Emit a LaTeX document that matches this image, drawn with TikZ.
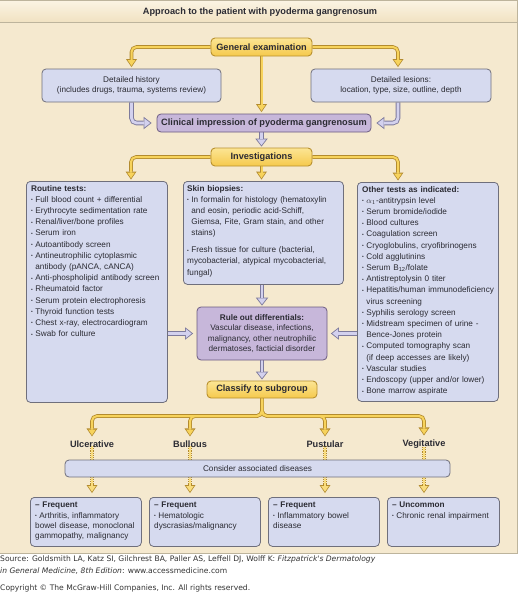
\documentclass[tikz,border=0pt]{standalone}
\usepackage{fontspec}
\setmainfont{Liberation Sans}
\newfontfamily\footfont{DejaVu Sans}
\usepackage{graphicx}
\usetikzlibrary{arrows.meta}
\pgfdeclarelayer{bg}
\pgfdeclarelayer{ca}
\pgfdeclarelayer{cb}
\pgfsetlayers{bg,ca,cb,main}
\definecolor{beige}{HTML}{F5E9CF}
\definecolor{bandTop}{HTML}{FBF4E4}
\definecolor{bandBot}{HTML}{F1E2C2}
\definecolor{panelEdge}{HTML}{BDB49C}
\definecolor{yEdge}{HTML}{B38B2E}
\definecolor{yFill}{HTML}{F7D35C}
\definecolor{yBoxTop}{HTML}{FCE594}
\definecolor{yBoxBot}{HTML}{F5C94C}
\definecolor{yBoxEdge}{HTML}{B8902E}
\definecolor{lavFill}{HTML}{D6DAEF}
\definecolor{lavEdge}{HTML}{6F6F7C}
\definecolor{purFill}{HTML}{C7B7DA}
\definecolor{purEdge}{HTML}{6C5C82}
\definecolor{lArrEdge}{HTML}{7D7A9C}
\definecolor{lArrFill}{HTML}{D3D1EE}
\definecolor{txtCol}{HTML}{2B2B33}
\newcommand\fbody{\fontsize{8.2}{11.2}\selectfont}
\newcommand\fhead{\fontsize{9.2}{11}\selectfont\bfseries}
\newcommand\bul{\makebox[4.2pt][l]{\raisebox{0.6pt}{\scalebox{0.6}{•}}}}
\newcommand\bi{\par\hangindent=4.2pt\hangafter=1\noindent\bul}
\newcommand\YC[2][0pt]{%
 \begin{pgfonlayer}{ca}\draw[yout,shorten >=#1] #2;\end{pgfonlayer}%
 \begin{pgfonlayer}{cb}\draw[yin,shorten >=#1+1.3pt] #2;\end{pgfonlayer}}
\newcommand\LC[2][0pt]{%
 \begin{pgfonlayer}{ca}\draw[lout,shorten >=#1] #2;\end{pgfonlayer}%
 \begin{pgfonlayer}{cb}\draw[lin,shorten >=#1+1.4pt] #2;\end{pgfonlayer}}
\newcommand\DC[2][0pt]{%
 \begin{pgfonlayer}{ca}\draw[dout,shorten >=#1] #2;\end{pgfonlayer}%
 \begin{pgfonlayer}{cb}\draw[din,shorten >=#1+1.3pt] #2;\end{pgfonlayer}}
\begin{document}
\begin{tikzpicture}[x=1pt,y=-1pt,
  every node/.style={text=txtCol},
  yout/.style={draw=yEdge, line width=3.6pt, rounded corners=5pt, line cap=butt,
    -{Triangle[width=11pt,length=8pt,line width=0pt]}},
  yin/.style={draw=yFill, line width=2pt, rounded corners=5pt,
    -{Triangle[width=7.6pt,length=5.6pt,line width=0pt]}},
  lout/.style={draw=lArrEdge, line width=4.6pt, rounded corners=5pt,
    -{Triangle[width=12.5pt,length=8pt,line width=0pt]}},
  lin/.style={draw=lArrFill, line width=2.8pt, rounded corners=5pt,
    -{Triangle[width=9pt,length=5.8pt,line width=0pt]}},
  dout/.style={draw=yEdge, line width=3.6pt, dash pattern=on 1.1pt off 1.1pt,
    -{Triangle[width=11pt,length=8pt,line width=0pt]}},
  din/.style={draw=yFill!80!white, line width=2pt,
    -{Triangle[width=7.6pt,length=5.6pt,line width=0pt]}},
  ybox/.style={draw=yBoxEdge, line width=0.9pt, top color=yBoxTop, bottom color=yBoxBot,
    rounded corners=4pt, inner sep=0pt, font=\fhead},
  lbox/.style={draw=lavEdge, line width=0.8pt, fill=lavFill, rounded corners=4pt, inner sep=0pt},
  pbox/.style={draw=purEdge, line width=0.8pt, fill=purFill, rounded corners=4pt, inner sep=0pt},
  ltxt/.style={anchor=north west, inner sep=0pt, align=left, font=\fbody},
  btxt/.style={anchor=north west, inner sep=0pt, align=left, font=\fontsize{8.2}{10.3}\selectfont, text width=108pt},
  lab/.style={font=\fhead, inner sep=1.5pt},
  foot/.style={anchor=north west, inner sep=0pt, align=left, font=\footfont\fontsize{7.6}{11.6}\selectfont, text=black!80}
]
\useasboundingbox (0,0) rectangle (520,595);
\begin{pgfonlayer}{bg}
\fill[white] (0,0) rectangle (520,595);
\fill[beige] (0,0) rectangle (517,553);
\shade[top color=bandTop, bottom color=bandBot] (0,0) rectangle (517,22);
\draw[panelEdge, line width=0.7pt] (0,22) -- (517,22);
\draw[panelEdge, line width=0.7pt] (0,0.3) -- (517,0.3) -- (517,553) -- (0,553);
\end{pgfonlayer}

\node[font=\fhead] (title) at (260,12) {Approach to the patient with pyoderma gangrenosum};

% top part
\node[ybox, minimum width=101pt, minimum height=18pt] (gen) at (261.5,47) {General examination};
\node[lbox, minimum width=179pt, minimum height=33pt, align=center, font=\fontsize{8.2}{10}\selectfont]
  (hist) at (131.5,85.5) {Detailed history\\(includes drugs, trauma, systems review)};
\node[lbox, minimum width=180pt, minimum height=33pt, align=center, font=\fontsize{8.2}{10}\selectfont]
  (les) at (401,85.5) {Detailed lesions:\\location, type, size, outline, depth};
\node[pbox, minimum width=214pt, minimum height=18pt, font=\fhead] (clin) at (264,123)
  {Clinical impression of pyoderma gangrenosum};
\node[ybox, minimum width=101pt, minimum height=18pt] (inv) at (261.5,157) {Investigations};

\coordinate (xL) at (131,0);
\coordinate (xR) at (398,0);

% test boxes
\node[lbox, anchor=north west, minimum width=141pt, minimum height=221pt] (rout) at (26,181) {};
\node[lbox, anchor=north west, minimum width=160pt, minimum height=103pt] (skin) at (183,181) {};
\node[lbox, anchor=north west, minimum width=141pt, minimum height=219pt] (oth) at (357,182) {};

\node[ltxt, text width=136pt] (routT) at (31,185) {{\bfseries Routine tests:}
\bi Full blood count + differential
\bi Erythrocyte sedimentation rate
\bi Renal/liver/bone profiles
\bi Serum iron
\bi Autoantibody screen
\bi Antineutrophilic cytoplasmic\newline antibody (pANCA, cANCA)
\bi Anti-phospholipid antibody screen
\bi Rheumatoid factor
\bi Serum protein electrophoresis
\bi Thyroid function tests
\bi Chest x-ray, electrocardiogram
\bi Swab for culture};

\node[ltxt, text width=158pt] (skinT) at (187,185) {{\bfseries Skin biopsies:}
\bi In formalin for histology (hematoxylin\newline and eosin, periodic acid-Schiff,\newline Giemsa, Fite, Gram stain, and other\newline stains)
\par\vspace{5.6pt}
\bi Fresh tissue for culture (bacterial,\newline mycobacterial, atypical mycobacterial,\newline fungal)};

\node[ltxt, text width=138pt] (othT) at (362,186) {{\bfseries Other tests as indicated:}
\bi $\alpha_1$-antitrypsin level
\bi Serum bromide/iodide
\bi Blood cultures
\bi Coagulation screen
\bi Cryoglobulins, cryofibrinogens
\bi Cold agglutinins
\bi Serum B\textsubscript{12}/folate
\bi Antistreptolysin 0 titer
\bi Hepatitis/human immunodeficiency\newline virus screening
\bi Syphilis serology screen
\bi Midstream specimen of urine -\newline Bence-Jones protein
\bi Computed tomography scan\newline (if deep accesses are likely)
\bi Vascular studies
\bi Endoscopy (upper and/or lower)
\bi Bone marrow aspirate};

\node[pbox, minimum width=130pt, minimum height=53pt, align=center, font=\fontsize{8.2}{10.5}\selectfont]
  (rule) at (262,333.5) {{\bfseries Rule out differentials:}\\Vascular disease, infections,\\malignancy, other neutrophilic\\dermatoses, facticial disorder};
\node[ybox, minimum width=110pt, minimum height=17pt] (cls) at (262,389.5) {Classify to subgroup};

\coordinate (hub) at (262,416);
\node[lab] (ulc) at (92,444) {Ulcerative};
\node[lab] (bull) at (190,444) {Bullous};
\node[lab] (pus) at (325,444) {Pustular};
\node[lab] (veg) at (424,444) {Vegitative};

% bottom boxes
\node[lbox, anchor=north west, minimum width=111pt, minimum height=49pt] (b1) at (30,497) {};
\node[lbox, anchor=north west, minimum width=111pt, minimum height=49pt] (b2) at (149,497) {};
\node[lbox, anchor=north west, minimum width=111pt, minimum height=49pt] (b3) at (268,497) {};
\node[lbox, anchor=north west, minimum width=112pt, minimum height=49pt] (b4) at (387,497) {};

\node[btxt] (b1T) at (35,502) {{\bfseries – Frequent}
\bi Arthritis, inflammatory\newline bowel disease, monoclonal\newline gammopathy, malignancy};
\node[btxt] (b2T) at (154,502) {{\bfseries – Frequent}
\bi Hematologic\newline dyscrasias/malignancy};
\node[btxt] (b3T) at (273,502) {{\bfseries – Frequent}
\bi Inflammatory bowel\newline disease};
\node[btxt] (b4T) at (392,502) {{\bfseries – Uncommon}
\bi Chronic renal impairment};

\node[lbox, minimum width=385pt, minimum height=17pt, font=\fontsize{8.2}{10}\selectfont] (cons) at (257.5,468.5) {Consider associated diseases};

% connectors
\YC[1.5pt]{(gen.west) -| (hist.north)}
\YC[1.5pt]{(gen.east) -| (xR |- les.north)}
\YC[1.5pt]{(gen.south) -- (gen.south |- clin.north)}
\LC[5pt]{(hist.south) |- (clin.west)}
\LC[5pt]{(xR |- les.south) |- (clin.east)}
\LC[1pt]{(inv.north |- clin.south) -- (inv.north)}
\YC[1.5pt]{(inv.west) -| (xL |- rout.north)}
\YC[1.5pt]{(inv.east) -| (xR |- oth.north)}
\YC[1.5pt]{(inv.south) -- (inv.south |- skin.north)}
\LC[1pt]{(rule.north |- skin.south) -- (rule.north)}
\LC[3.5pt]{(rule.west -| rout.east) -- (rule.west)}
\LC[3.5pt]{(rule.east -| oth.west) -- (rule.east)}
\LC[1pt]{(rule.south) -- (cls.north)}
\YC[2.5pt]{(cls.south) -- (hub) -| (ulc.north)}
\YC[2.5pt]{(cls.south) -- (hub) -| (bull.north)}
\YC[2.5pt]{(cls.south) -- (hub) -| (pus.north)}
\YC[2.5pt]{(cls.south) -- (hub) -| (veg.north)}
\DC[4pt]{([yshift=3pt]ulc.south) -- (ulc.south |- b1.north)}
\DC[4pt]{([yshift=3pt]bull.south) -- (bull.south |- b2.north)}
\DC[4pt]{([yshift=3pt]pus.south) -- (pus.south |- b3.north)}
\DC[4pt]{([yshift=3pt]veg.south) -- (veg.south |- b4.north)}

% footer
\node[foot] (src) at (0,555.5) {Source: Goldsmith LA, Katz SI, Gilchrest BA, Paller AS, Leffell DJ, Wolff K: \textit{Fitzpatrick's Dermatology}\\\textit{in General Medicine, 8th Edition}: www.accessmedicine.com};
\node[foot] (copy) at (0,584.5) {Copyright © The McGraw-Hill Companies, Inc. All rights reserved.};
\end{tikzpicture}
\end{document}
